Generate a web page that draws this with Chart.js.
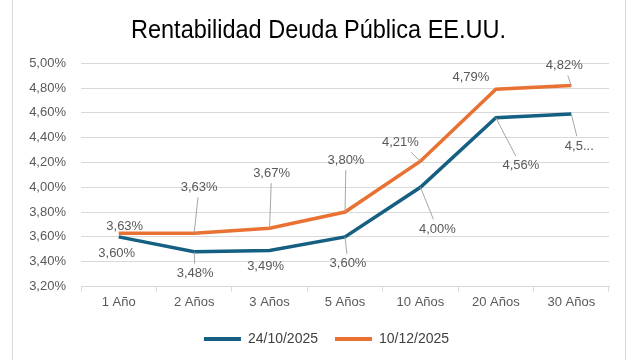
<!DOCTYPE html>
<html>
<head>
<meta charset="utf-8">
<script src="https://cdn.jsdelivr.net/npm/chart.js@4.4.1/dist/chart.umd.min.js"></script>
<style>
    html, body { margin: 0; padding: 0; background: #fff; }
    #wrap { width: 640px; height: 360px; }
</style>
</head>
<body>
<div id="wrap"><canvas id="chart-yield" width="640" height="360"></canvas></div>
<script>
// --- Data ---
var plazos = ['1 Año', '2 Años', '3 Años', '5 Años', '10 Años', '20 Años', '30 Años'];
var serieOct = [3.60, 3.48, 3.49, 3.60, 4.00, 4.56, 4.59];
var serieDic = [3.63, 3.63, 3.67, 3.80, 4.21, 4.79, 4.82];
var yTicks = [3.20, 3.40, 3.60, 3.80, 4.00, 4.20, 4.40, 4.60, 4.80, 5.00];
var titulo = 'Rentabilidad Deuda Pública EE.UU.';

// label placement (offset from the point, px)
var offsOct = [[-2, 17], [1, 22], [-4, 16], [3, 27], [17, 42], [25, 48], [8, 32]];
var offsDic = [[6, -7], [5, -46], [2, -55], [1, -52], [-20, -19], [-25, -12], [-7, -20]];

function pct(v) {
    return v.toFixed(2).replace('.', ',') + '%';
}

// data labels with leader lines, the way the spreadsheet draws them
var labelPlugin = {
    id: 'leaderLabels',
    afterDatasetsDraw: function (chart) {
        var ctx = chart.ctx;
        ctx.save();
        ctx.font = '13px "Liberation Sans", Arial, sans-serif';
        ctx.textAlign = 'center';
        ctx.textBaseline = 'middle';
        chart.data.datasets.forEach(function (ds, di) {
            var meta = chart.getDatasetMeta(di);
            meta.data.forEach(function (pt, i) {
                var off = ds.labelOffsets[i];
                var txt = pct(ds.data[i]);
                if (ds.truncate && ds.truncate[i]) txt = txt.slice(0, 3) + '...';
                var cx = pt.x + off[0], cy = pt.y + off[1];
                var hw = ctx.measureText(txt).width / 2 + 2, hh = 7 + 3;
                var dx = pt.x - cx, dy = pt.y - cy;
                var t = Math.min(dx ? hw / Math.abs(dx) : 99, dy ? hh / Math.abs(dy) : 99);
                var rest = Math.sqrt(dx * dx + dy * dy) * (1 - t);
                if (t < 1 && rest > 8) {
                    ctx.strokeStyle = '#a6a6a6';
                    ctx.lineWidth = 1;
                    ctx.beginPath();
                    ctx.moveTo(cx + dx * t, cy + dy * t);
                    ctx.lineTo(pt.x, pt.y);
                    ctx.stroke();
                }
                ctx.fillStyle = '#595959';
                ctx.fillText(txt, cx, cy);
            });
        });
        ctx.restore();
    }
};

// frame + a narrow title (no condensed font installed, so squeeze it)
var framePlugin = {
    id: 'frame',
    afterLayout: function (chart) {
        // legend sits a bit right of centre in the original
        chart.legend.left += 16;
        chart.legend.right += 16;
    },
    beforeDraw: function (chart) {
        var ctx = chart.ctx;
        ctx.save();
        ctx.strokeStyle = '#d9d9d9';
        ctx.lineWidth = 1;
        ctx.beginPath();
        ctx.moveTo(12.5, 0); ctx.lineTo(12.5, 360);
        ctx.moveTo(625.5, 0); ctx.lineTo(625.5, 360);
        ctx.stroke();
        ctx.restore();
    },
    afterDraw: function (chart) {
        var ctx = chart.ctx;
        var t = chart.titleBlock;
        ctx.save();
        ctx.font = '26px "Liberation Sans", Arial, sans-serif';
        var w = ctx.measureText(titulo).width;
        var k = 375 / w;
        ctx.translate(318.5, t.top + t.height / 2 - 1);
        ctx.scale(k, 1);
        ctx.fillStyle = '#000';
        ctx.textAlign = 'center';
        ctx.textBaseline = 'middle';
        ctx.fillText(titulo, 0, 0);
        ctx.restore();
    }
};

new Chart(document.getElementById('chart-yield').getContext('2d'), {
    type: 'line',
    data: {
        labels: plazos,
        datasets: [
            { label: '24/10/2025', data: serieOct, borderColor: '#156082', backgroundColor: '#156082', borderWidth: 3.5, pointRadius: 0, tension: 0, labelOffsets: offsOct, truncate: [false, false, false, false, false, false, true] },
            { label: '10/12/2025', data: serieDic, borderColor: '#e97132', backgroundColor: '#e97132', borderWidth: 3.5, pointRadius: 0, tension: 0, labelOffsets: offsDic }
        ]
    },
    options: {
        responsive: false,
        animation: false,
        layout: { padding: { left: 12, right: 31, top: 0, bottom: 4 } },
        plugins: {
            title: {
                display: true,
                text: titulo,
                color: 'rgba(0,0,0,0)',
                font: { family: '"Liberation Sans", Arial, sans-serif', size: 26, weight: 'normal' },
                padding: { top: 14, bottom: 18 }
            },
            legend: {
                position: 'bottom',
                labels: {
                    color: '#404040',
                    font: { family: '"Liberation Sans", Arial, sans-serif', size: 14 },
                    boxWidth: 37,
                    boxHeight: 4,
                    padding: 17,
                    generateLabels: function (chart) {
                        return chart.data.datasets.map(function (ds, i) {
                            return { text: ds.label, fillStyle: ds.borderColor, strokeStyle: ds.borderColor, lineWidth: 0, datasetIndex: i, fontColor: '#404040' };
                        });
                    }
                }
            },
            tooltip: { enabled: false }
        },
        scales: {
            x: {
                offset: true,
                grid: { offset: true, drawOnChartArea: false, drawTicks: true, tickLength: 5, color: '#d9d9d9' },
                border: { color: '#d9d9d9' },
                ticks: { color: '#595959', padding: 3, font: { family: '"Liberation Sans", Arial, sans-serif', size: 13 } },
                afterFit: function (scale) { scale.height = 28.5; }
            },
            y: {
                min: 3.2,
                max: 5.0,
                afterBuildTicks: function (scale) { scale.ticks = yTicks.map(function (v) { return { value: v }; }); },
                grid: { color: '#d9d9d9', drawTicks: false },
                border: { display: false },
                ticks: { color: '#595959', padding: 15, font: { family: '"Liberation Sans", Arial, sans-serif', size: 13 }, callback: function (v) { return pct(v); } },
                afterFit: function (scale) { scale.width = 69; }
            }
        }
    },
    plugins: [framePlugin, labelPlugin]
});
</script>
</body>
</html>
